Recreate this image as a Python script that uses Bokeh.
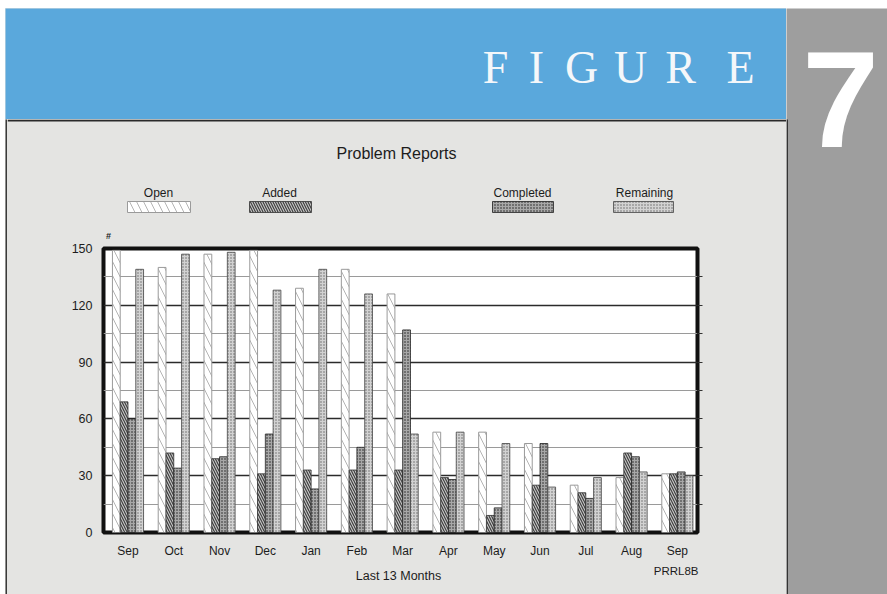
import numpy as np
from bokeh.plotting import figure
from bokeh.layouts import row, column
from bokeh.models import Range1d, FixedTicker, LinearAxis, Grid, Spacer
from bokeh.core.properties import value
from bokeh.embed import file_html
from bokeh.resources import INLINE

# ---- data ----
months = ["Sep", "Oct", "Nov", "Dec", "Jan", "Feb", "Mar", "Apr", "May", "Jun", "Jul", "Aug", "Sep"]
open_reports = [149, 140, 147, 149, 129, 139, 126, 53, 53, 47, 25, 29, 31]
added = [69, 42, 39, 31, 33, 33, 33, 29, 9, 25, 21, 42, 31]
completed = [60, 34, 40, 52, 23, 45, 107, 28, 13, 47, 18, 40, 32]
remaining = [139, 147, 148, 128, 139, 126, 52, 53, 47, 24, 29, 32, 30]
series_names = ["Open", "Added", "Completed", "Remaining"]
y_ticks = [0, 30, 60, 90, 120, 150]
major_grid = [30, 60, 90, 120]
minor_grid = [15, 45, 75, 105, 135]

SANS = "Liberation Sans"
PANEL = "#e4e4e2"
BLUE = "#5aa8dc"
SIDE = "#9e9e9e"
INK = "#1c1c1c"

styles = {
    "Open": dict(fill_color="white", line_color="#9a9a9a", line_width=1,
                 hatch_pattern="\\", hatch_color="#b4b4b4", hatch_scale=14, hatch_weight=1),
    "Added": dict(fill_color="#c4c4c4", line_color="#333333", line_width=0.8,
                  hatch_pattern="\\", hatch_color="#3a3a3a", hatch_scale=5, hatch_weight=1.1),
    "Completed": dict(fill_color="#a8a8a8", line_color="#222222", line_width=0.8,
                      hatch_pattern="dot", hatch_color="#1a1a1a", hatch_scale=3, hatch_weight=1),
    "Remaining": dict(fill_color="#d2d2d2", line_color="#444444", line_width=0.8,
                      hatch_pattern="dot", hatch_color="#666666", hatch_scale=3, hatch_weight=1),
}


def blank(w, h, bg):
    f = figure(width=w, height=h, x_range=Range1d(0, w), y_range=Range1d(h, 0),
               x_axis_type=None, y_axis_type=None, toolbar_location=None,
               output_backend="svg", min_border=0, background_fill_color=bg,
               border_fill_color=bg, outline_line_color=None, frame_align=False)
    return f


def txt(f, x, y, s, size, font=SANS, align="center", color=INK, style="normal",
        baseline="middle"):
    f.text(x=[x], y=[y], text=[s], text_font=value(font), text_font_size=size,
           text_color=color, text_align=align, text_baseline=baseline,
           text_font_style=style)


# ---- banner (page x 5..786, y 8..119) ----
banner = blank(781, 111, BLUE)
banner.text(x=[490, 531, 576, 625, 675, 735], y=[59] * 6, text=list("FIGURE"),
            text_font=value("Liberation Serif"), text_font_size="46px",
            text_color="#f4f7fa", text_align="center", text_baseline="alphabetic")

# ---- header: title + legend (page x 7..786, y 119..241) ----
header = blank(779, 122, PANEL)
header.line(x=[0, 779], y=[1, 1], line_color="#2a2a2a", line_width=2)
txt(header, 389, 34, "Problem Reports", "16px")
leg_left = [120, 242, 485, 606]
leg_right = [183, 304, 546, 666]
leg_label_x = [151, 272, 515, 637]
for name, l, r, lx in zip(series_names, leg_left, leg_right, leg_label_x):
    header.quad(left=[l], right=[r], top=[82], bottom=[93], **styles[name])
    txt(header, lx, 73, name, "12px")
txt(header, 101, 116, "#", "9px", style="bold")

# ---- chart (page x 7..786, y 241..562) ----
chart = figure(width=779, height=321, x_range=Range1d(-0.535, 12.44), y_range=Range1d(0, 150),
               toolbar_location=None, output_backend="svg", frame_align=False,
               min_border_left=96, min_border_right=89, min_border_top=7, min_border_bottom=30,
               background_fill_color="white", border_fill_color=PANEL,
               outline_line_color="#111111", outline_line_width=4)

idx = np.arange(len(months))
offsets = [-0.255, -0.085, 0.085, 0.255]
for name, vals, off in zip(series_names, [open_reports, added, completed, remaining], offsets):
    chart.vbar(x=idx + off, top=vals, bottom=0, width=0.17, **styles[name])

chart.xgrid.visible = False
chart.ygrid.ticker = FixedTicker(ticks=major_grid)
chart.ygrid.grid_line_color = "#2b2b2b"
chart.ygrid.grid_line_width = 1.6
chart.add_layout(Grid(dimension=1, ticker=FixedTicker(ticks=minor_grid),
                      grid_line_color="#9a9a9a", grid_line_width=1))

chart.yaxis.ticker = FixedTicker(ticks=y_ticks)
chart.xaxis.ticker = FixedTicker(ticks=list(range(len(months))))
chart.xaxis.major_label_overrides = {i: m for i, m in enumerate(months)}
for ax in (chart.xaxis[0], chart.yaxis[0]):
    ax.axis_line_color = None
    ax.major_tick_line_color = None
    ax.minor_tick_line_color = None
    ax.major_label_text_font = SANS
    ax.major_label_text_color = INK
chart.yaxis.major_label_text_font_size = "12.5px"
chart.xaxis.major_label_text_font_size = "12px"
chart.yaxis.major_label_standoff = 5
chart.xaxis.major_label_standoff = 5

right_ax = LinearAxis(ticker=FixedTicker(ticks=minor_grid + major_grid),
                      major_label_text_alpha=0, major_label_text_font_size="1px",
                      axis_line_color=None, minor_tick_line_color=None,
                      major_tick_in=0, major_tick_out=5, major_tick_line_color="#333333")
chart.add_layout(right_ax, "right")

# ---- footer (page x 7..786, y 562..594) ----
footer = blank(779, 32, PANEL)
txt(footer, 391, 13, "Last 13 Months", "12.5px")
txt(footer, 691, 8, "PRRL8B", "11.5px", align="right")

# ---- left panel border (page x 5..7) ----
edge = blank(2, 475, "#3a3a3a")

# ---- side column (page x 786..887, y 8..594) ----
side = blank(101, 586, SIDE)
side.line(x=[0.75, 0.75], y=[111, 586], line_color="#333333", line_width=1.5)
txt(side, 54, 91, "7", "138px", color="white", style="bold", baseline="alphabetic")

panel = column(header, chart, footer, styles={"background-color": PANEL})
left_col = column(banner, row(edge, panel), styles={"background-color": PANEL})
layout = column(Spacer(width=887, height=8),
                row(Spacer(width=5, height=586), left_col, side))
open("out.html", "w").write(file_html(layout, INLINE))
